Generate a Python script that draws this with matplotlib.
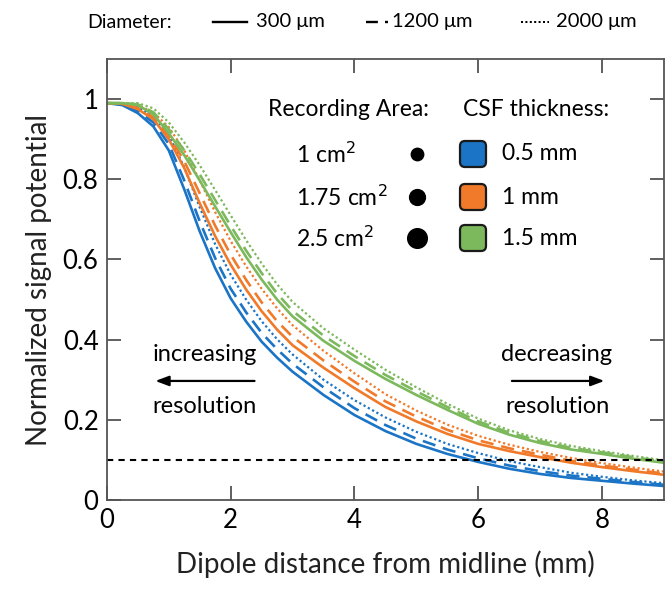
import matplotlib
matplotlib.use("Agg")
import matplotlib.pyplot as plt
from matplotlib.patches import FancyBboxPatch
from matplotlib.lines import Line2D

plt.rcParams['font.family'] = ['Lato', 'DejaVu Sans']

# distance from midline (mm)
x = [0, 0.25, 0.5, 0.75, 1.0, 1.25, 1.5, 1.75, 2.0, 2.25, 2.5, 2.75, 3.0,
     3.5, 4.0, 4.5, 5.0, 5.5, 6.0, 6.5, 7.0, 7.5, 8.0, 8.5, 9.0]

# CSF 0.5 mm
blue_300 = [0.99, 0.985, 0.965, 0.932, 0.872, 0.775, 0.67, 0.578, 0.503, 0.445, 0.395, 0.355, 0.32,
            0.262, 0.212, 0.172, 0.14, 0.115, 0.095, 0.078, 0.065, 0.055, 0.048, 0.041, 0.035]
blue_1200 = [0.99, 0.987, 0.97, 0.942, 0.888, 0.797, 0.695, 0.603, 0.527, 0.468, 0.417, 0.376, 0.34,
             0.281, 0.229, 0.187, 0.153, 0.126, 0.104, 0.086, 0.072, 0.061, 0.053, 0.045, 0.038]
blue_2000 = [0.99, 0.99, 0.98, 0.958, 0.91, 0.83, 0.73, 0.638, 0.562, 0.5, 0.446, 0.401, 0.363,
             0.3, 0.249, 0.206, 0.17, 0.14, 0.117, 0.097, 0.082, 0.068, 0.058, 0.049, 0.042]
# CSF 1 mm
orange_300 = [0.99, 0.988, 0.975, 0.95, 0.9, 0.828, 0.74, 0.658, 0.587, 0.525, 0.471, 0.425, 0.386,
              0.33, 0.279, 0.232, 0.196, 0.165, 0.14, 0.122, 0.107, 0.093, 0.082, 0.072, 0.063]
orange_1200 = [0.99, 0.989, 0.978, 0.955, 0.91, 0.845, 0.765, 0.684, 0.612, 0.549, 0.493, 0.446, 0.407,
               0.348, 0.295, 0.246, 0.208, 0.175, 0.149, 0.129, 0.113, 0.098, 0.086, 0.076, 0.066]
orange_2000 = [0.99, 0.99, 0.985, 0.967, 0.93, 0.872, 0.797, 0.718, 0.646, 0.583, 0.527, 0.478, 0.436,
               0.372, 0.316, 0.264, 0.223, 0.188, 0.16, 0.138, 0.12, 0.105, 0.092, 0.081, 0.071]
# CSF 1.5 mm
green_300 = [0.99, 0.99, 0.985, 0.962, 0.915, 0.86, 0.797, 0.732, 0.668, 0.606, 0.55, 0.5, 0.458,
             0.397, 0.347, 0.302, 0.262, 0.225, 0.19, 0.163, 0.142, 0.126, 0.115, 0.103, 0.093]
green_1200 = [0.99, 0.99, 0.987, 0.967, 0.925, 0.872, 0.812, 0.748, 0.684, 0.622, 0.566, 0.515, 0.472,
              0.41, 0.359, 0.312, 0.271, 0.232, 0.196, 0.168, 0.147, 0.13, 0.119, 0.107, 0.096]
green_2000 = [0.99, 0.99, 0.99, 0.977, 0.942, 0.892, 0.835, 0.773, 0.71, 0.648, 0.59, 0.538, 0.494,
              0.428, 0.375, 0.325, 0.281, 0.24, 0.203, 0.174, 0.152, 0.135, 0.122, 0.11, 0.099]

threshold = 0.1
diameters = ["300 \u03bcm", "1200 \u03bcm", "2000 \u03bcm"]
areas = ["1 cm$^2$", "1.75 cm$^2$", "2.5 cm$^2$"]
csf = ["0.5 mm", "1 mm", "1.5 mm"]

BLUE = "#1b74c6"
ORANGE = "#f07a2a"
GREEN = "#7cb85c"
colors = [BLUE, ORANGE, GREEN]
styles = [dict(ls="-", lw=1.9), dict(ls=(0, (5, 3)), lw=1.9), dict(ls=(0, (1, 1.2)), lw=1.6)]

fig = plt.figure(figsize=(6.68, 5.9), dpi=100)
ax = fig.add_axes([0.160, 0.1525, 0.834, 0.7475])

series = [[blue_300, blue_1200, blue_2000],
          [orange_300, orange_1200, orange_2000],
          [green_300, green_1200, green_2000]]
for col, group in zip(colors, series):
    for st, y in zip(styles, group):
        ax.plot(x, y, color=col, **st)

ax.axhline(threshold, color="black", ls=(0, (3, 2.5)), lw=1.5)

ax.set_xlim(0, 9)
ax.set_ylim(0, 1.1)
ax.set_xticks([0, 2, 4, 6, 8])
ax.set_yticks([0, 0.2, 0.4, 0.6, 0.8, 1.0])
ax.set_yticklabels(["0", "0.2", "0.4", "0.6", "0.8", "1"])
ax.tick_params(direction="in", length=10, width=1.2, top=True, right=True,
               labelsize=18.5, pad=6, color="#444444")
for s in ax.spines.values():
    s.set_color("#555555")
    s.set_linewidth(1.3)
ax.set_xlabel("Dipole distance from midline (mm)", fontsize=20, labelpad=12, color="#222222")
ax.set_ylabel("Normalized signal potential", fontsize=20, labelpad=8, color="#222222")

# resolution annotations
ax.text(0.175, 0.329, "increasing", transform=ax.transAxes, ha="center", va="center", fontsize=17)
ax.text(0.175, 0.213, "resolution", transform=ax.transAxes, ha="center", va="center", fontsize=17)
ax.annotate("", xy=(0.082, 0.27), xytext=(0.27, 0.27), xycoords="axes fraction",
            arrowprops=dict(arrowstyle="-|>,head_length=0.8,head_width=0.3", color="black", lw=1.6))
ax.text(0.808, 0.329, "decreasing", transform=ax.transAxes, ha="center", va="center", fontsize=17)
ax.text(0.808, 0.213, "resolution", transform=ax.transAxes, ha="center", va="center", fontsize=17)
ax.annotate("", xy=(0.898, 0.27), xytext=(0.722, 0.27), xycoords="axes fraction",
            arrowprops=dict(arrowstyle="-|>,head_length=0.8,head_width=0.3", color="black", lw=1.6))

# inner legend (recording area and CSF thickness)
W, H = 668.0, 590.0
def fx(px):
    return px / W
def fy(py):
    return 1 - py / H

fig.text(fx(268), fy(110), "Recording Area:", fontsize=16.5, va="center", ha="left")
fig.text(fx(463), fy(110), "CSF thickness:", fontsize=16.5, va="center", ha="left")
rows = [154, 197, 238]
dot_sizes = [80, 130, 200]
for i, py in enumerate(rows):
    fig.text(fx(296), fy(py), areas[i], fontsize=16.5, va="center", ha="left")
    fig.text(fx(502), fy(py), csf[i], fontsize=16.5, va="center", ha="left")
    ax.scatter([fx(417)], [fy(py)], s=dot_sizes[i], color="black",
               transform=fig.transFigure, clip_on=False, zorder=5)
    sq = 26
    box = FancyBboxPatch(((473 - sq / 2) / 100, (H - py - sq / 2) / 100), sq / 100, sq / 100,
                         boxstyle="round,pad=0,rounding_size=0.05",
                         transform=fig.dpi_scale_trans, facecolor=colors[i],
                         edgecolor="#1a1a1a", lw=1.6)
    fig.patches.append(box)

# top legend (diameter)
ty = fy(22)
fig.text(fx(87), ty, "Diameter:", fontsize=14, va="center", ha="left")
line_spans = [(213, 247), (366, 388), (521, 549)]
text_x = [256, 392, 556]
for st, (a, b), tx, lab in zip(styles, line_spans, text_x, diameters):
    fig.add_artist(Line2D([fx(a), fx(b)], [ty, ty], color="black",
                          ls=st["ls"], lw=st["lw"] * 0.9, transform=fig.transFigure))
    fig.text(fx(tx), ty, lab, fontsize=14.5, va="center", ha="left")

fig.savefig("out.png", dpi=100)
